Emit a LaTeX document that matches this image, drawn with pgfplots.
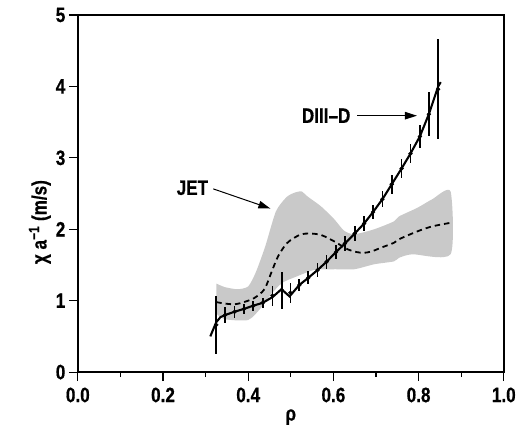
\documentclass[border=0pt]{standalone}
\usepackage{fontspec}
\setmainfont{Liberation Sans}[FakeStretch=0.82, BoldFeatures={FakeBold=0.6}]
\usepackage{pgfplots}
\pgfplotsset{compat=1.18}
\usetikzlibrary{arrows.meta}
\newcommand{\lbl}{\bfseries\fontsize{21}{24}\selectfont}

\begin{document}
\begin{tikzpicture}
\begin{axis}[
  scale only axis, width=427bp, height=358bp,
  xmin=0, xmax=1, ymin=0, ymax=5,
  xtick={0,0.2,0.4,0.6,0.8,1.0}, ytick={0,1,2,3,4,5},
  minor x tick num=1,
  tick pos=left, tick align=outside,
  major tick length=9bp, minor tick length=5bp,
  every tick/.style={black, line width=1.2pt},
  axis line style={line width=1.5pt},
  /pgf/number format/assume math mode=true,
  ticklabel style={font=\lbl},
  xticklabel style={yshift=-3bp, /pgf/number format/.cd, fixed, fixed zerofill, precision=1},
  xlabel={ρ}, ylabel={χ a\textsuperscript{−1} (m/s)},
  label style={font=\lbl},
  every axis x label/.append style={at={(axis description cs:0.5,-0.126)}, anchor=center},
  every axis y label/.append style={at={(axis description cs:-0.089,0.42)}, anchor=center},
  clip=false,
]
\path (axis description cs:-0.1827,-0.1592) rectangle (axis description cs:1.0328,1.0419);

% JET band (upper edge then lower edge backwards)
\addplot[fill=black!21, draw=none, smooth, tension=0.4] coordinates {
  (0.325,1.24) (0.345,1.19) (0.375,1.16) (0.40,1.20) (0.418,1.40) (0.44,1.76)
  (0.465,2.25) (0.49,2.45) (0.508,2.51) (0.525,2.53) (0.539,2.46) (0.571,2.32)
  (0.602,2.14) (0.625,1.98) (0.649,1.93) (0.696,2.00) (0.742,2.11) (0.754,2.18)
  (0.797,2.30) (0.832,2.42) (0.875,2.53)
  (0.875,1.65) (0.785,1.65) (0.754,1.60) (0.742,1.55) (0.696,1.51) (0.649,1.44)
  (0.602,1.44) (0.555,1.43) (0.51,1.33) (0.48,1.25) (0.455,1.10) (0.43,0.90)
  (0.40,0.73) (0.345,0.74) (0.325,0.82)
} -- cycle;

% JET mean profile
\addplot[black, line width=1.8pt, dash pattern=on 5.5pt off 4pt, smooth, tension=0.5] coordinates {
  (0.325,0.98) (0.345,0.96) (0.368,0.95) (0.39,0.98) (0.415,1.04) (0.438,1.16)
  (0.454,1.39) (0.47,1.62) (0.49,1.80) (0.508,1.88) (0.525,1.93) (0.545,1.94)
  (0.571,1.92) (0.602,1.83) (0.633,1.72) (0.655,1.68) (0.672,1.67) (0.69,1.69)
  (0.711,1.74) (0.742,1.81) (0.754,1.86) (0.797,1.97) (0.832,2.04) (0.875,2.09)
};

% DIII-D profile
\addplot[black, line width=2.1pt] coordinates {
  (0.311,0.50) (0.318,0.60) (0.325,0.70) (0.335,0.77) (0.346,0.80) (0.368,0.845)
  (0.390,0.885) (0.412,0.93) (0.434,0.97) (0.457,1.05) (0.478,1.16) (0.497,1.06)
  (0.520,1.22) (0.541,1.32) (0.563,1.43) (0.584,1.545) (0.606,1.68) (0.627,1.80)
  (0.650,1.94) (0.672,2.08) (0.693,2.24) (0.715,2.42) (0.737,2.63) (0.760,2.85)
  (0.781,3.06) (0.803,3.30) (0.824,3.61) (0.846,4.00) (0.852,4.06)
};

% DIII-D error bars
\addplot[black, only marks, mark=none, error bars/.cd, y dir=both, y explicit,
  error mark=none, error bar style={black, solid, line width=1.7pt}] coordinates {
  (0.325,0.66) +- (0,0.41)
  (0.346,0.80) +- (0,0.11)
  (0.368,0.845) +- (0,0.085)
  (0.390,0.885) +- (0,0.075)
  (0.412,0.93) +- (0,0.07)
  (0.434,0.97) +- (0,0.07)
  (0.457,1.07) +- (0,0.14)
  (0.479,1.145) +- (0,0.255)
  (0.499,1.11) +- (0,0.14)
  (0.520,1.22) +- (0,0.08)
  (0.541,1.32) +- (0,0.09)
  (0.563,1.43) +- (0,0.10)
  (0.584,1.545) +- (0,0.10)
  (0.606,1.68) +- (0,0.10)
  (0.627,1.80) +- (0,0.10)
  (0.650,1.94) +- (0,0.10)
  (0.672,2.08) +- (0,0.10)
  (0.693,2.24) +- (0,0.10)
  (0.715,2.42) +- (0,0.11)
  (0.737,2.63) +- (0,0.13)
  (0.760,2.85) +- (0,0.13)
  (0.781,3.06) +- (0,0.13)
  (0.803,3.30) +- (0,0.16)
  (0.824,3.61) +- (0,0.31)
  (0.846,3.96) +- (0,0.70)
};

% annotations
\node[font=\lbl] at (axis cs:0.583,3.59) {DIII–D};
\draw[-{Triangle[length=12bp,width=7.5bp]}, line width=1pt] (axis cs:0.656,3.59) -- (axis cs:0.796,3.59);
\node[font=\lbl] at (axis cs:0.269,2.58) {JET};
\draw[-{Triangle[length=12bp,width=7.5bp]}, line width=1pt] (axis cs:0.318,2.565) -- (axis cs:0.452,2.29);
\end{axis}
\end{tikzpicture}
\end{document}
